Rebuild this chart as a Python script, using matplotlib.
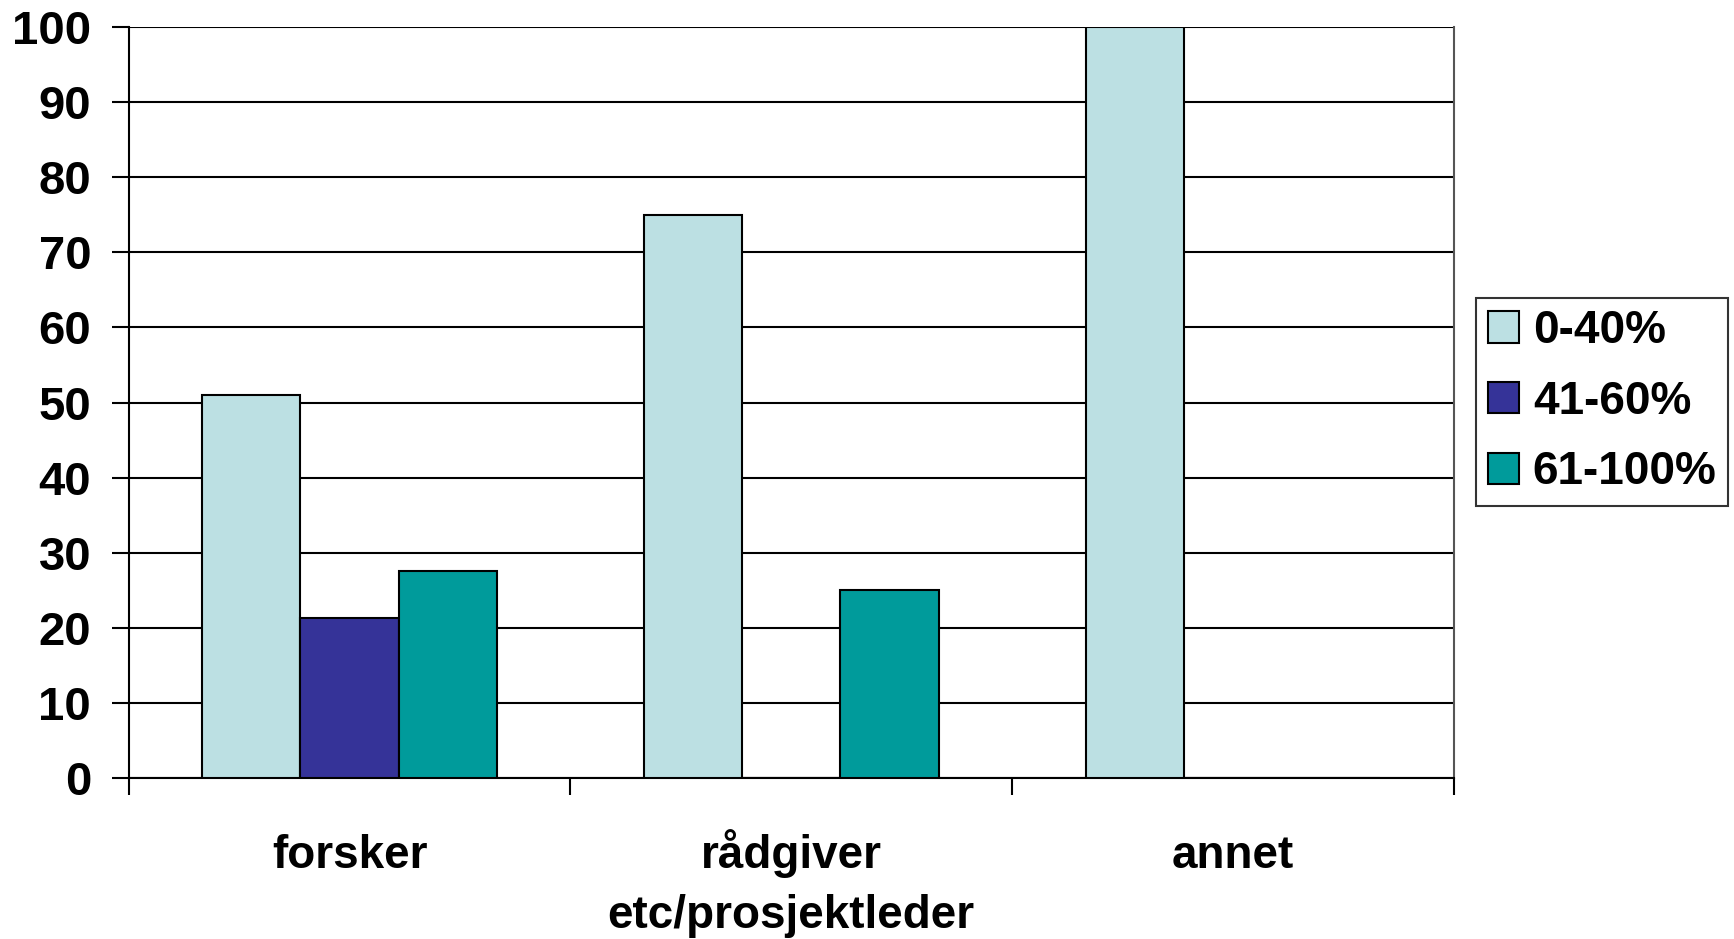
import numpy as np
import matplotlib.pyplot as plt

categories = ['forsker', 'rådgiver\netc/prosjektleder', 'annet']
series_names = ['0-40%', '41-60%', '61-100%']
low = [51, 75, 100]
mid = [21.3, 0, 0]
high = [27.6, 25, 0]
colors = ['#bce0e3', '#353398', '#009b9b']

plt.rcParams['font.family'] = ['Liberation Sans', 'DejaVu Sans']
plt.rcParams['font.weight'] = 'bold'

fig = plt.figure(figsize=(17.34, 9.39), dpi=100)
ax = fig.add_axes([0.0742, 0.1715, 0.7643, 0.7997])

x = np.arange(len(categories))
w = 1 / 4.5
for i, (vals, name) in enumerate(zip([low, mid, high], series_names)):
    ax.bar(x + (i - 1) * w, vals, width=w, color=colors[i], edgecolor='black',
           linewidth=1.5, label=name, zorder=3)

ax.set_xlim(-0.5, 2.5)
ax.set_ylim(0, 100)
ax.set_yticks(np.arange(0, 101, 10))
ax.yaxis.grid(True, color='black', linewidth=1.5, zorder=0)
ax.tick_params(axis='y', direction='out', length=12, width=1.5, labelsize=34, pad=15)

# category boundary ticks on x axis
ax.set_xticks([-0.5, 0.5, 1.5, 2.5])
ax.set_xticklabels([])
ax.tick_params(axis='x', direction='out', length=12, width=1.5)

# category labels, one text per line so the first baselines line up
for xi, lab in zip(x, categories):
    for k, line in enumerate(lab.split('\n')):
        ax.text(xi, -0.12 - k * 0.08, line, transform=ax.get_xaxis_transform(),
                ha='center', va='baseline', fontsize=33, fontweight='bold')

for s in ['left', 'bottom']:
    ax.spines[s].set_linewidth(1.5)
ax.spines['top'].set_visible(False)
ax.spines['right'].set_color('#555555')
ax.spines['right'].set_linewidth(1.5)

leg = ax.legend(loc='center left', bbox_to_anchor=(1.017, 0.501), fontsize=33,
                frameon=True, fancybox=False, edgecolor='black', handlelength=0.68,
                handleheight=0.68, handletextpad=0.3, labelspacing=0.58,
                borderpad=0.25, borderaxespad=0)
leg.get_frame().set_linewidth(1.5)

fig.savefig('out.png', dpi=100)
